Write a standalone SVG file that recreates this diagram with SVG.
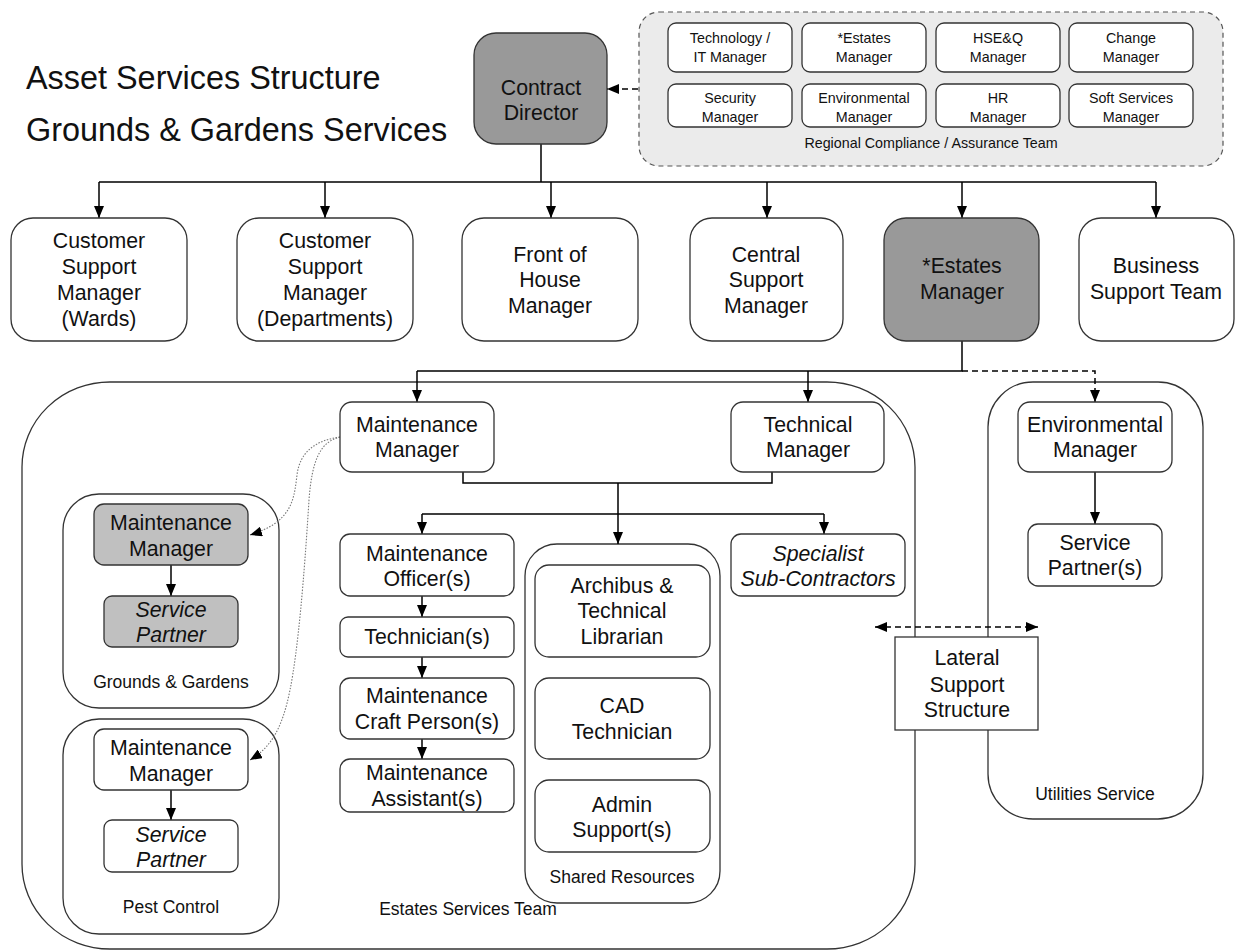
<svg xmlns="http://www.w3.org/2000/svg" width="1240" height="951" viewBox="0 0 1240 951">
<defs>
<style>
text{font-family:"Liberation Sans",Arial,sans-serif;fill:#111;text-anchor:middle}
.t{font-size:32.4px;text-anchor:start}
.n{font-size:21.3px}
.s{font-size:14.3px}
.l{font-size:17.5px}
.i{font-style:italic}
.box{fill:#fff;stroke:#333;stroke-width:1.3}
.dark{fill:#999;stroke:#333;stroke-width:1.3}
.light{fill:#c0c0c0;stroke:#333;stroke-width:1.3}
.cont{fill:none;stroke:#333;stroke-width:1.3}
.c{fill:none;stroke:#000;stroke-width:1.5}
.a{marker-end:url(#ah)}
.d{stroke-dasharray:6 4}
.dot{fill:none;stroke:#777;stroke-width:1.1;stroke-dasharray:1.5 1.5;marker-end:url(#ah)}
</style>
<marker id="ah" viewBox="0 0 12 10" refX="12" refY="5" markerWidth="12" markerHeight="10" markerUnits="userSpaceOnUse" orient="auto-start-reverse"><path d="M0,0 L12,5 L0,10 z" fill="#000"/></marker>
</defs>
<rect width="1240" height="951" fill="#fff"/>

<g id="titles">
<text class="t" x="26" y="89">Asset Services Structure</text>
<text class="t" x="26" y="141">Grounds &amp; Gardens Services</text>
</g>

<g id="containers">
<g id="regional-team">
<rect x="639" y="12" width="584" height="154" rx="20" fill="#ebebeb" stroke="#555" stroke-width="1.2" stroke-dasharray="5 4"/>
<text class="s" x="931" y="148">Regional Compliance / Assurance Team</text>
</g>
<g id="estates-services-team">
<rect class="cont" x="22" y="382" width="893" height="567" rx="88" ry="85"/>
<text class="l" x="468" y="915">Estates Services Team</text>
</g>
<g id="utilities-service">
<rect class="cont" x="988" y="382" width="215" height="437" rx="45"/>
<text class="l" x="1095" y="800">Utilities Service</text>
</g>
<g id="shared-resources">
<rect class="box" x="525" y="544" width="195" height="359" rx="32"/>
<text class="l" x="622" y="883">Shared Resources</text>
</g>
<g id="grounds-gardens">
<rect class="box" x="63" y="494" width="216" height="214" rx="36"/>
<text class="l" x="171" y="688">Grounds &amp; Gardens</text>
</g>
<g id="pest-control">
<rect class="box" x="63" y="719" width="216" height="215" rx="36"/>
<text class="l" x="171" y="913">Pest Control</text>
</g>
</g>

<g id="connectors">
<path class="c d a" d="M638,89 H607"/>
<path class="c" d="M541,144 V182 M99,182 H1156"/>
<path class="c a" d="M99,182 V218"/>
<path class="c a" d="M325,182 V218"/>
<path class="c a" d="M551,182 V218"/>
<path class="c a" d="M767,182 V218"/>
<path class="c a" d="M962,182 V218"/>
<path class="c a" d="M1156,182 V218"/>
<path class="c" d="M962,341 V371 H417"/>
<path class="c a" d="M417,371 V402"/>
<path class="c a" d="M808,371 V402"/>
<path class="c d a" d="M962,371 H1095 V402"/>
<path class="c" d="M463,472 V483 H772 V472 M618,483 V514 M422,514 H824"/>
<path class="c a" d="M422,514 V534"/>
<path class="c a" d="M618,514 V544"/>
<path class="c a" d="M824,514 V534"/>
<path class="c a" d="M422,596 V617"/>
<path class="c a" d="M422,657 V678"/>
<path class="c a" d="M422,739 V759"/>
<path class="c a" d="M171,565 V596"/>
<path class="c a" d="M171,790 V820"/>
<path class="c a" d="M1095,472 V524"/>
<path class="c d a" d="M875,627 H1038" style="marker-start:url(#ah)"/>
<path class="dot" d="M340,437 C318,440 300,450 297,475 C294,500 292,522 250,535"/>
<path class="dot" d="M340,437 C320,442 312,460 309,500 C304,580 298,650 290,690 C282,730 270,748 250,760"/>
</g>

<g id="contract-director"><rect class="dark" x="474" y="33" width="133" height="111" rx="22"/><text class="n" x="541" y="95">Contract</text><text class="n" x="541" y="120">Director</text></g>

<g id="tech-it-manager"><rect class="box" x="668" y="23" width="124" height="49" rx="8"/><text class="s" x="730" y="43">Technology /</text><text class="s" x="730" y="62">IT Manager</text></g>
<g id="team-estates-manager"><rect class="box" x="802" y="23" width="124" height="49" rx="8"/><text class="s" x="864" y="43">*Estates</text><text class="s" x="864" y="62">Manager</text></g>
<g id="hseq-manager"><rect class="box" x="936" y="23" width="124" height="49" rx="8"/><text class="s" x="998" y="43">HSE&amp;Q</text><text class="s" x="998" y="62">Manager</text></g>
<g id="change-manager"><rect class="box" x="1069" y="23" width="124" height="49" rx="8"/><text class="s" x="1131" y="43">Change</text><text class="s" x="1131" y="62">Manager</text></g>
<g id="security-manager"><rect class="box" x="668" y="84" width="124" height="43" rx="8"/><text class="s" x="730" y="103">Security</text><text class="s" x="730" y="122">Manager</text></g>
<g id="team-environmental-manager"><rect class="box" x="802" y="84" width="124" height="43" rx="8"/><text class="s" x="864" y="103">Environmental</text><text class="s" x="864" y="122">Manager</text></g>
<g id="hr-manager"><rect class="box" x="936" y="84" width="124" height="43" rx="8"/><text class="s" x="998" y="103">HR</text><text class="s" x="998" y="122">Manager</text></g>
<g id="soft-services-manager"><rect class="box" x="1069" y="84" width="124" height="43" rx="8"/><text class="s" x="1131" y="103">Soft Services</text><text class="s" x="1131" y="122">Manager</text></g>

<g id="csm-wards"><rect class="box" x="11" y="218" width="176" height="123" rx="22"/><text class="n" x="99" y="248">Customer</text><text class="n" x="99" y="274">Support</text><text class="n" x="99" y="300">Manager</text><text class="n" x="99" y="326">(Wards)</text></g>
<g id="csm-departments"><rect class="box" x="237" y="218" width="176" height="123" rx="22"/><text class="n" x="325" y="248">Customer</text><text class="n" x="325" y="274">Support</text><text class="n" x="325" y="300">Manager</text><text class="n" x="325" y="326">(Departments)</text></g>
<g id="front-of-house"><rect class="box" x="462" y="218" width="176" height="123" rx="22"/><text class="n" x="550" y="262">Front of</text><text class="n" x="550" y="287">House</text><text class="n" x="550" y="313">Manager</text></g>
<g id="central-support"><rect class="box" x="690" y="218" width="153" height="123" rx="22"/><text class="n" x="766" y="262">Central</text><text class="n" x="766" y="287">Support</text><text class="n" x="766" y="313">Manager</text></g>
<g id="estates-manager"><rect class="dark" x="884" y="218" width="155" height="123" rx="22"/><text class="n" x="962" y="273">*Estates</text><text class="n" x="962" y="299">Manager</text></g>
<g id="business-support"><rect class="box" x="1079" y="218" width="155" height="123" rx="22"/><text class="n" x="1156" y="273">Business</text><text class="n" x="1156" y="299">Support Team</text></g>

<g id="maintenance-manager"><rect class="box" x="340" y="402" width="154" height="70" rx="12"/><text class="n" x="417" y="432">Maintenance</text><text class="n" x="417" y="457">Manager</text></g>
<g id="technical-manager"><rect class="box" x="731" y="402" width="153" height="70" rx="12"/><text class="n" x="808" y="432">Technical</text><text class="n" x="808" y="457">Manager</text></g>
<g id="environmental-manager"><rect class="box" x="1018" y="402" width="154" height="70" rx="12"/><text class="n" x="1095" y="432">Environmental</text><text class="n" x="1095" y="457">Manager</text></g>
<g id="service-partners"><rect class="box" x="1028" y="524" width="134" height="62" rx="10"/><text class="n" x="1095" y="550">Service</text><text class="n" x="1095" y="575">Partner(s)</text></g>

<g id="maintenance-officers"><rect class="box" x="340" y="534" width="174" height="62" rx="10"/><text class="n" x="427" y="561">Maintenance</text><text class="n" x="427" y="586">Officer(s)</text></g>
<g id="technicians"><rect class="box" x="340" y="617" width="174" height="40" rx="8"/><text class="n" x="427" y="644">Technician(s)</text></g>
<g id="craft-persons"><rect class="box" x="340" y="678" width="174" height="61" rx="10"/><text class="n" x="427" y="703">Maintenance</text><text class="n" x="427" y="729">Craft Person(s)</text></g>
<g id="assistants"><rect class="box" x="340" y="759" width="174" height="53" rx="10"/><text class="n" x="427" y="780">Maintenance</text><text class="n" x="427" y="806">Assistant(s)</text></g>

<g id="archibus"><rect class="box" x="535" y="565" width="175" height="92" rx="14"/><text class="n" x="622" y="593">Archibus &amp;</text><text class="n" x="622" y="618">Technical</text><text class="n" x="622" y="644">Librarian</text></g>
<g id="cad-technician"><rect class="box" x="535" y="678" width="175" height="81" rx="14"/><text class="n" x="622" y="713">CAD</text><text class="n" x="622" y="739">Technician</text></g>
<g id="admin-support"><rect class="box" x="535" y="780" width="175" height="72" rx="14"/><text class="n" x="622" y="812">Admin</text><text class="n" x="622" y="837">Support(s)</text></g>

<g id="specialist"><rect class="box" x="731" y="534" width="174" height="62" rx="10"/><text class="n i" x="818" y="561">Specialist</text><text class="n i" x="818" y="586">Sub-Contractors</text></g>

<g id="gg-maintenance-manager"><rect class="light" x="94" y="504" width="154" height="61" rx="10"/><text class="n" x="171" y="530">Maintenance</text><text class="n" x="171" y="556">Manager</text></g>
<g id="gg-service-partner"><rect class="light" x="104" y="596" width="134" height="51" rx="8"/><text class="n i" x="171" y="617">Service</text><text class="n i" x="171" y="642">Partner</text></g>
<g id="pc-maintenance-manager"><rect class="box" x="94" y="729" width="154" height="61" rx="10"/><text class="n" x="171" y="755">Maintenance</text><text class="n" x="171" y="781">Manager</text></g>
<g id="pc-service-partner"><rect class="box" x="104" y="820" width="134" height="52" rx="8"/><text class="n i" x="171" y="842">Service</text><text class="n i" x="171" y="867">Partner</text></g>

<g id="lateral-support"><rect x="895" y="637" width="143" height="93" fill="#fff" stroke="#333" stroke-width="1.3"/><text class="n" x="967" y="665">Lateral</text><text class="n" x="967" y="692">Support</text><text class="n" x="967" y="717">Structure</text></g>
</svg>
